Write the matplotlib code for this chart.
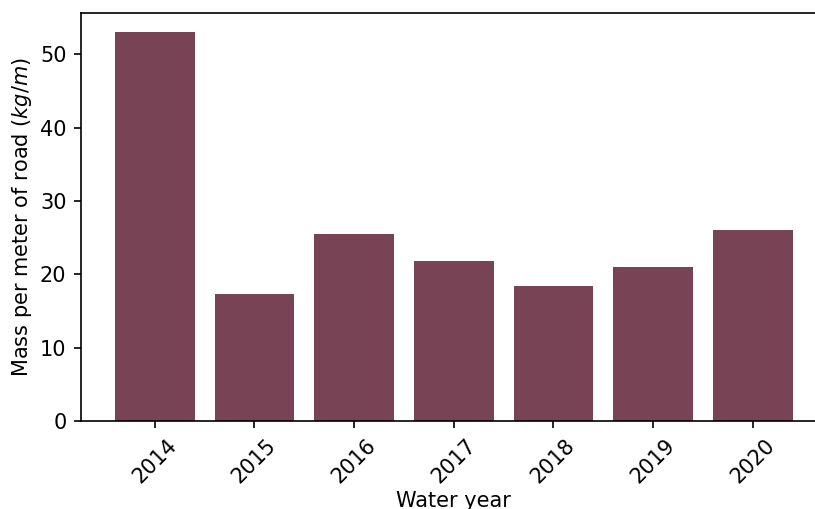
import matplotlib
matplotlib.use("Agg")
import matplotlib.pyplot as plt

years = ["2014", "2015", "2016", "2017", "2018", "2019", "2020"]
mass_per_meter = [53.0, 17.3, 25.45, 21.8, 18.35, 20.95, 26.0]

s = 1.5
fs = 10 * s
plt.rcParams.update({
    "font.size": fs,
    "axes.labelsize": fs,
    "xtick.labelsize": fs,
    "ytick.labelsize": fs,
    "axes.linewidth": 0.8 * s,
    "axes.labelpad": 4.0 * s,
    "xtick.major.size": 3.2 * s,
    "ytick.major.size": 3.5 * s,
    "xtick.major.width": 0.8 * s,
    "ytick.major.width": 0.8 * s,
    "xtick.major.pad": 3.5 * s,
    "ytick.major.pad": 3.5 * s,
})

W, H = 815, 509
fig = plt.figure(figsize=(W / 100, H / 100), dpi=100)
ax = fig.add_axes([81 / W, (H - 421) / H, 745.5 / W, (421 - 13) / H])

ax.bar(years, mass_per_meter, color="#784455", width=0.8)
ax.set_ylabel("Mass per meter of road ($kg/m$)", fontsize=fs, labelpad=4.0)
ax.set_xlabel("Water year", fontsize=fs, labelpad=3.0)
ax.tick_params(axis="both", labelsize=fs)
plt.setp(ax.get_xticklabels(), rotation=45)

fig.savefig("out.png", dpi=100)
